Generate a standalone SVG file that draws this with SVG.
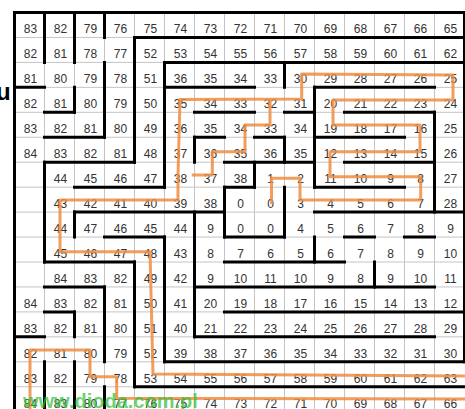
<svg xmlns="http://www.w3.org/2000/svg" width="465" height="409" viewBox="0 0 465 409">
<style>
.thin{fill:none;stroke:#c4c4c4;stroke-width:1}
.wall{fill:none;stroke:#000;stroke-width:3;stroke-linecap:square}
.num{font-family:"Liberation Sans",Arial,sans-serif;font-size:12px;fill:#333;text-anchor:middle}
.route{fill:none;stroke:#f08c3e;stroke-width:3;stroke-opacity:0.85;stroke-linejoin:round}
.mark{font-family:"Liberation Sans",Arial,sans-serif;font-size:20px;font-weight:bold;fill:#33c23a;fill-opacity:0.72}
</style>
<rect width="465" height="409" fill="#fff"/>
<g id="grid">
<path class="thin" d="M44.5 12.5V412M74.5 12.5V412M104.5 12.5V412M134.5 12.5V412M164.5 12.5V412M194.5 12.5V412M224.5 12.5V412M254.5 12.5V412M284.5 12.5V412M314.5 12.5V412M344.5 12.5V412M374.5 12.5V412M404.5 12.5V412M434.5 12.5V412M14.5 37.45H464.5M14.5 62.4H464.5M14.5 87.35H464.5M14.5 112.3H464.5M14.5 137.25H464.5M14.5 162.2H464.5M14.5 187.15H464.5M14.5 212.1H464.5M14.5 237.05H464.5M14.5 262H464.5M14.5 286.95H464.5M14.5 311.9H464.5M14.5 336.85H464.5M14.5 361.8H464.5M14.5 386.75H464.5"/>
</g>
<g id="numbers" class="num">
<text y="33.3"><tspan x="30.5">83</tspan><tspan x="60.5">82</tspan><tspan x="90.5">79</tspan><tspan x="120.5">76</tspan><tspan x="150.5">75</tspan><tspan x="180.5">74</tspan><tspan x="210.5">73</tspan><tspan x="240.5">72</tspan><tspan x="270.5">71</tspan><tspan x="300.5">70</tspan><tspan x="330.5">69</tspan><tspan x="360.5">68</tspan><tspan x="390.5">67</tspan><tspan x="420.5">66</tspan><tspan x="450.5">65</tspan></text>
<text y="58.2"><tspan x="30.5">82</tspan><tspan x="60.5">81</tspan><tspan x="90.5">78</tspan><tspan x="120.5">77</tspan><tspan x="150.5">52</tspan><tspan x="180.5">53</tspan><tspan x="210.5">54</tspan><tspan x="240.5">55</tspan><tspan x="270.5">56</tspan><tspan x="300.5">57</tspan><tspan x="330.5">58</tspan><tspan x="360.5">59</tspan><tspan x="390.5">60</tspan><tspan x="420.5">61</tspan><tspan x="450.5">62</tspan></text>
<text y="83.2"><tspan x="30.5">81</tspan><tspan x="60.5">80</tspan><tspan x="90.5">79</tspan><tspan x="120.5">78</tspan><tspan x="150.5">51</tspan><tspan x="180.5">36</tspan><tspan x="210.5">35</tspan><tspan x="240.5">34</tspan><tspan x="270.5">33</tspan><tspan x="300.5">30</tspan><tspan x="330.5">29</tspan><tspan x="360.5">28</tspan><tspan x="390.5">27</tspan><tspan x="420.5">26</tspan><tspan x="450.5">25</tspan></text>
<text y="108.1"><tspan x="30.5">82</tspan><tspan x="60.5">81</tspan><tspan x="90.5">80</tspan><tspan x="120.5">79</tspan><tspan x="150.5">50</tspan><tspan x="180.5">35</tspan><tspan x="210.5">34</tspan><tspan x="240.5">33</tspan><tspan x="270.5">32</tspan><tspan x="300.5">31</tspan><tspan x="330.5">20</tspan><tspan x="360.5">21</tspan><tspan x="390.5">22</tspan><tspan x="420.5">23</tspan><tspan x="450.5">24</tspan></text>
<text y="133.1"><tspan x="30.5">83</tspan><tspan x="60.5">82</tspan><tspan x="90.5">81</tspan><tspan x="120.5">80</tspan><tspan x="150.5">49</tspan><tspan x="180.5">36</tspan><tspan x="210.5">35</tspan><tspan x="240.5">34</tspan><tspan x="270.5">33</tspan><tspan x="300.5">34</tspan><tspan x="330.5">19</tspan><tspan x="360.5">18</tspan><tspan x="390.5">17</tspan><tspan x="420.5">16</tspan><tspan x="450.5">25</tspan></text>
<text y="158"><tspan x="30.5">84</tspan><tspan x="60.5">83</tspan><tspan x="90.5">82</tspan><tspan x="120.5">81</tspan><tspan x="150.5">48</tspan><tspan x="180.5">37</tspan><tspan x="210.5">36</tspan><tspan x="240.5">35</tspan><tspan x="270.5">36</tspan><tspan x="300.5">35</tspan><tspan x="330.5">12</tspan><tspan x="360.5">13</tspan><tspan x="390.5">14</tspan><tspan x="420.5">15</tspan><tspan x="450.5">26</tspan></text>
<text y="183"><tspan x="60.5">44</tspan><tspan x="90.5">45</tspan><tspan x="120.5">46</tspan><tspan x="150.5">47</tspan><tspan x="180.5">38</tspan><tspan x="210.5">37</tspan><tspan x="240.5">38</tspan><tspan x="270.5">1</tspan><tspan x="300.5">2</tspan><tspan x="330.5">11</tspan><tspan x="360.5">10</tspan><tspan x="390.5">9</tspan><tspan x="420.5">8</tspan><tspan x="450.5">27</tspan></text>
<text y="207.9"><tspan x="60.5">43</tspan><tspan x="90.5">42</tspan><tspan x="120.5">41</tspan><tspan x="150.5">40</tspan><tspan x="180.5">39</tspan><tspan x="210.5">38</tspan><tspan x="240.5">0</tspan><tspan x="270.5">0</tspan><tspan x="300.5">3</tspan><tspan x="330.5">4</tspan><tspan x="360.5">5</tspan><tspan x="390.5">6</tspan><tspan x="420.5">7</tspan><tspan x="450.5">28</tspan></text>
<text y="232.9"><tspan x="60.5">44</tspan><tspan x="90.5">47</tspan><tspan x="120.5">46</tspan><tspan x="150.5">45</tspan><tspan x="180.5">44</tspan><tspan x="210.5">9</tspan><tspan x="240.5">0</tspan><tspan x="270.5">0</tspan><tspan x="300.5">4</tspan><tspan x="330.5">5</tspan><tspan x="360.5">6</tspan><tspan x="390.5">7</tspan><tspan x="420.5">8</tspan><tspan x="450.5">9</tspan></text>
<text y="257.8"><tspan x="60.5">45</tspan><tspan x="90.5">46</tspan><tspan x="120.5">47</tspan><tspan x="150.5">48</tspan><tspan x="180.5">43</tspan><tspan x="210.5">8</tspan><tspan x="240.5">7</tspan><tspan x="270.5">6</tspan><tspan x="300.5">5</tspan><tspan x="330.5">6</tspan><tspan x="360.5">7</tspan><tspan x="390.5">8</tspan><tspan x="420.5">9</tspan><tspan x="450.5">10</tspan></text>
<text y="282.8"><tspan x="60.5">84</tspan><tspan x="90.5">83</tspan><tspan x="120.5">82</tspan><tspan x="150.5">49</tspan><tspan x="180.5">42</tspan><tspan x="210.5">9</tspan><tspan x="240.5">10</tspan><tspan x="270.5">11</tspan><tspan x="300.5">10</tspan><tspan x="330.5">9</tspan><tspan x="360.5">8</tspan><tspan x="390.5">9</tspan><tspan x="420.5">10</tspan><tspan x="450.5">11</tspan></text>
<text y="307.7"><tspan x="30.5">84</tspan><tspan x="60.5">83</tspan><tspan x="90.5">82</tspan><tspan x="120.5">81</tspan><tspan x="150.5">50</tspan><tspan x="180.5">41</tspan><tspan x="210.5">20</tspan><tspan x="240.5">19</tspan><tspan x="270.5">18</tspan><tspan x="300.5">17</tspan><tspan x="330.5">16</tspan><tspan x="360.5">15</tspan><tspan x="390.5">14</tspan><tspan x="420.5">13</tspan><tspan x="450.5">12</tspan></text>
<text y="332.7"><tspan x="30.5">83</tspan><tspan x="60.5">82</tspan><tspan x="90.5">81</tspan><tspan x="120.5">80</tspan><tspan x="150.5">51</tspan><tspan x="180.5">40</tspan><tspan x="210.5">21</tspan><tspan x="240.5">22</tspan><tspan x="270.5">23</tspan><tspan x="300.5">24</tspan><tspan x="330.5">25</tspan><tspan x="360.5">26</tspan><tspan x="390.5">27</tspan><tspan x="420.5">28</tspan><tspan x="450.5">29</tspan></text>
<text y="357.6"><tspan x="30.5">82</tspan><tspan x="60.5">81</tspan><tspan x="90.5">80</tspan><tspan x="120.5">79</tspan><tspan x="150.5">52</tspan><tspan x="180.5">39</tspan><tspan x="210.5">38</tspan><tspan x="240.5">37</tspan><tspan x="270.5">36</tspan><tspan x="300.5">35</tspan><tspan x="330.5">34</tspan><tspan x="360.5">33</tspan><tspan x="390.5">32</tspan><tspan x="420.5">31</tspan><tspan x="450.5">30</tspan></text>
<text y="382.6"><tspan x="30.5">83</tspan><tspan x="60.5">82</tspan><tspan x="90.5">79</tspan><tspan x="120.5">78</tspan><tspan x="150.5">53</tspan><tspan x="180.5">54</tspan><tspan x="210.5">55</tspan><tspan x="240.5">56</tspan><tspan x="270.5">57</tspan><tspan x="300.5">58</tspan><tspan x="330.5">59</tspan><tspan x="360.5">60</tspan><tspan x="390.5">61</tspan><tspan x="420.5">62</tspan><tspan x="450.5">63</tspan></text>
<text y="407.5"><tspan x="30.5">84</tspan><tspan x="60.5">83</tspan><tspan x="90.5">80</tspan><tspan x="120.5">77</tspan><tspan x="150.5">76</tspan><tspan x="180.5">75</tspan><tspan x="210.5">74</tspan><tspan x="240.5">73</tspan><tspan x="270.5">72</tspan><tspan x="300.5">71</tspan><tspan x="330.5">70</tspan><tspan x="360.5">69</tspan><tspan x="390.5">68</tspan><tspan x="420.5">67</tspan><tspan x="450.5">66</tspan></text>
</g>
<g id="route">
<path class="route" d="M271.5 204V178.3H300V200H420.7V176.7H330V151.7H420V125H333V100H453V75L301.7 74V99L180 99.5L178 175V200H60V251.7H150L153 374L470 376V399L116.7 398.3V376.7H90V350H30V412"/>
<path class="route" d="M270 99.5V125H245V151.7H212.3V175H191.7"/>
</g>
<g id="walls">
<path class="wall" d="M14.5 12.5H464.5M134.5 37.45H464.5M164.5 62.4H464.5M14.5 87.35H44.5M164.5 87.35H254.5M314.5 87.35H434.5M44.5 112.3H74.5M194.5 112.3H254.5M284.5 112.3H314.5M344.5 112.3H434.5M44.5 137.25H104.5M194.5 137.25H224.5M254.5 137.25H284.5M314.5 137.25H404.5M44.5 162.2H134.5M224.5 162.2H314.5M344.5 162.2H434.5M74.5 187.15H164.5M224.5 187.15H254.5M314.5 187.15H404.5M74.5 212.1H224.5M314.5 212.1H464.5M104.5 237.05H164.5M224.5 237.05H284.5M344.5 237.05H374.5M404.5 237.05H434.5M44.5 262H134.5M224.5 262H344.5M44.5 286.95H104.5M194.5 286.95H434.5M44.5 311.9H74.5M224.5 311.9H464.5M14.5 336.85H44.5M194.5 336.85H434.5M164.5 361.8H464.5M134.5 386.75H464.5"/>
<path class="wall" d="M14.5 12.5V412M44.5 12.5V62.4M44.5 162.2V262M44.5 361.8V412M74.5 12.5V62.4M74.5 87.35V112.3M74.5 212.1V237.05M74.5 311.9V336.85M74.5 361.8V412M104.5 12.5V37.45M104.5 62.4V137.25M104.5 286.95V361.8M104.5 386.75V412M134.5 37.45V162.2M134.5 262V386.75M164.5 62.4V187.15M164.5 237.05V361.8M194.5 137.25V162.2M194.5 212.1V336.85M224.5 187.15V237.05M254.5 162.2V187.15M284.5 62.4V87.35M284.5 137.25V162.2M284.5 187.15V237.05M314.5 87.35V187.15M314.5 237.05V262M374.5 262V286.95M434.5 112.3V212.1M464.5 12.5V361.8"/>
</g>
<text x="-4" y="100" font-family="Liberation Sans, Arial, sans-serif" font-size="24" font-weight="bold" fill="#000">u</text>
<text class="mark" x="23" y="408">www.dioda.com.pl</text>
</svg>
